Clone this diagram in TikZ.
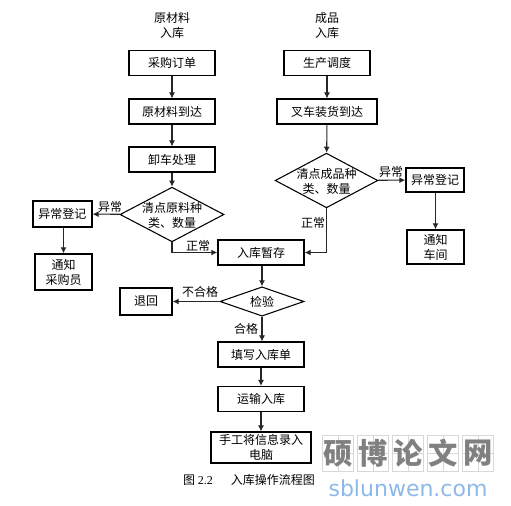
\documentclass[tikz,border=0pt]{standalone}
\usepackage{fontspec}
\setmainfont{Liberation Serif}
\newfontfamily\cjk{Noto Sans CJK SC}
\newfontfamily\webfont{DejaVu Sans}
\usepackage{xcolor}
\usetikzlibrary{arrows.meta,positioning,shapes.geometric}
\definecolor{wmgray}{HTML}{808080}
\definecolor{wmgrid}{HTML}{D8D8D8}
\definecolor{wmblue}{HTML}{8DB8EA}
\begin{document}
\begin{tikzpicture}[x=.75pt,y=-.75pt,>={Latex[length=4.5pt,width=4.5pt]},
font=\cjk\fontsize{9}{11.25}\selectfont,
box/.style={draw,line width=1.1pt,align=center,inner sep=0pt,minimum width=64.5pt,minimum height=18.5pt},
decision/.style={draw,diamond,line width=.8pt,inner sep=0pt},
lab/.style={align=center,inner sep=0pt},
link/.style={->,line width=.8pt,draw=black!85},
wmbox/.style={draw=wmgrid,line width=.6pt,minimum width=23pt,minimum height=27.5pt,inner sep=0pt}]
\useasboundingbox (0,0) rectangle (511,506);
\node[lab] (rawtitle) at (172,25) {原材料\\入库};
\node[lab] (prodtitle) at (327,25) {成品\\入库};
\node[box] (order) at (172,63) {采购订单};
\node[box] (arrive) at (172,111.5) {原材料到达};
\node[box] (unload) at (172,159.5) {卸车处理};
\node[decision,minimum width=78pt,minimum height=41pt] (rawcheck) at (172,214.5) {};
\node[lab] (rawchecktext) at (172,215) {清点原料种\\类、数量};
\node[box,minimum width=44pt,minimum height=19.5pt] (rawerr) at (62.5,214) {异常登记};
\node[box,minimum width=43pt,minimum height=27pt] (buyer) at (63.5,272) {通知\\采购员};
\node[box] (sched) at (327,63) {生产调度};
\node[box,minimum width=75pt] (fork) at (327,111.5) {叉车装货到达};
\node[decision,minimum width=77pt,minimum height=41pt] (prodcheck) at (326.5,180.5) {};
\node[lab] (prodchecktext) at (326.5,181) {清点成品种\\类、数量};
\node[box,minimum width=43.5pt,minimum height=18pt] (proderr) at (435,180) {异常登记};
\node[box,minimum width=43pt,minimum height=25.5pt] (workshop) at (435.5,247) {通知\\车间};
\node[box] (store) at (261,252.5) {入库暂存};
\node[decision,minimum width=63pt,minimum height=22pt] (inspect) at (262,301.5) {};
\node[lab] (inspecttext) at (262,302) {检验};
\node[box,minimum width=39pt,minimum height=20pt] (back) at (146,301.5) {退回};
\node[box] (form) at (261,354.5) {填写入库单};
\node[box] (move) at (261,399) {运输入库};
\node[box,minimum width=75pt,minimum height=23pt] (manual) at (261,447.5) {手工将信息录入\\电脑};
\node[lab] (caption) at (249,480) {图 {\rmfamily 2.2}\hspace{1.5em}入库操作流程图};
\draw[link] (order)--(arrive);
\draw[link] (arrive)--(unload);
\draw[link] (unload)--(rawcheck);
\draw[link] (rawcheck)--(rawerr);
\draw[link] (rawerr.south-|buyer)--(buyer);
\draw[link] (rawcheck.south)|-(store.west);
\draw[link] (sched)--(fork);
\draw[link] (fork)--(prodcheck);
\draw[link] (prodcheck)--(proderr);
\draw[link] (proderr.south-|workshop)--(workshop);
\draw[link] (prodcheck.south)|-(store.east);
\draw[link] (store.south-|inspect)--(inspect);
\draw[link] (inspect)--(back);
\draw[link] (inspect.south)--(form.north-|inspect);
\draw[link] (form)--(move);
\draw[link] (move)--(manual);
\node[lab] (rawbad) at (110,207) {异常};
\node[lab] (rawok) at (198,246) {正常};
\node[lab] (prodbad) at (391,172) {异常};
\node[lab] (prodok) at (313,223) {正常};
\node[lab] (fail) at (200,292) {不合格};
\node[lab] (pass) at (246,329) {合格};
\foreach \cx/\ch in {338/硕,373/博,408/论,443/文,478/网}{
  \node[wmbox] (wm\ch) at (\cx,453.5) {};
  \draw[wmgrid,line width=.4pt] (wm\ch.north)--(wm\ch.south) (wm\ch.west)--(wm\ch.east);
  \node[lab,font=\cjk\bfseries\fontsize{22}{22}\selectfont,text=wmgray] at (wm\ch) {\ch};
}
\node[lab,font=\webfont\fontsize{16.5}{18}\selectfont,text=wmblue] (site) at (408,488) {sblunwen.com};
\end{tikzpicture}
\end{document}
